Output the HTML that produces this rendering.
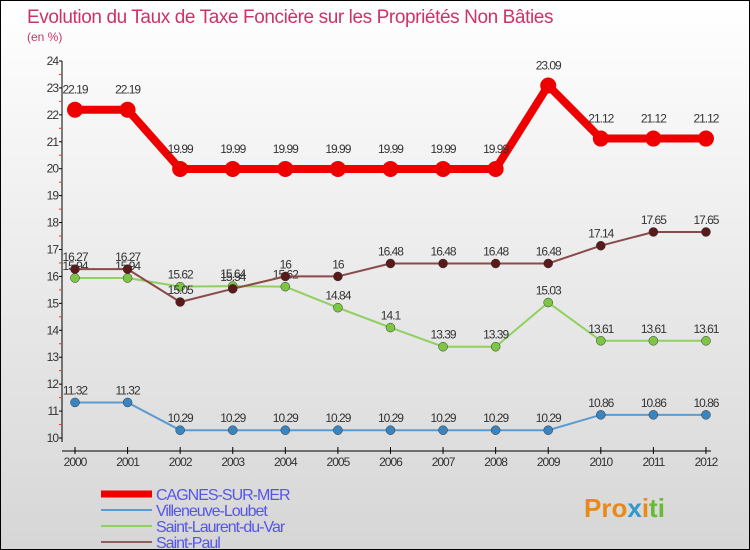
<!DOCTYPE html>
<html><head><meta charset="utf-8"><style>
body{margin:0}
#c{width:748px;height:548px;border:1px solid #000;background:linear-gradient(#fff,#d6d6d6);position:relative;font-family:"Liberation Sans",sans-serif;overflow:hidden}
</style></head><body>
<div id="c">
<svg id="s" width="748" height="548" xmlns="http://www.w3.org/2000/svg">
<text x="26" y="22" font-size="19" letter-spacing="-0.4" fill="#cc3366">Evolution du Taux de Taxe Foncière sur les Propriétés Non Bâties</text>
<text x="26" y="40" font-size="12" fill="#cc3366">(en %)</text>
<g id="axes"></g><g id="series"></g><g id="legend"></g>
<text x="583" y="516" font-size="26" font-weight="bold" fill="#e88a1a">Pro<tspan fill="#3399cc">x</tspan>i<tspan fill="#66bb33">ti</tspan></text>
</svg></div>
<script>
const years=[2000,2001,2002,2003,2004,2005,2006,2007,2008,2009,2010,2011,2012];
const yTicks=[10,11,12,13,14,15,16,17,18,19,20,21,22,23,24];
const cagnes=[22.19,22.19,19.99,19.99,19.99,19.99,19.99,19.99,19.99,23.09,21.12,21.12,21.12];
const villeneuve=[11.32,11.32,10.29,10.29,10.29,10.29,10.29,10.29,10.29,10.29,10.86,10.86,10.86];
const saintLaurent=[15.94,15.94,15.62,15.64,15.62,14.84,14.1,13.39,13.39,15.03,13.61,13.61,13.61];
const saintPaul=[16.27,16.27,15.05,15.54,16,16,16.48,16.48,16.48,16.48,17.14,17.65,17.65];
const names=["CAGNES-SUR-MER","Villeneuve-Loubet","Saint-Laurent-du-Var","Saint-Paul"];
const NS="http://www.w3.org/2000/svg";
const X=i=>74+i*52.58, Y=v=>437-(v-10)*26.93;
function mk(t,a,p){const e=document.createElementNS(NS,t);for(const k in a)e.setAttribute(k,a[k]);p.appendChild(e);return e;}
const ax=document.getElementById('axes');
let l=mk('line',{x1:61,y1:60,x2:61,y2:441,stroke:'#000'},ax);


l=mk('line',{x1:61,y1:450,x2:710,y2:450,stroke:'#000'},ax);


yTicks.forEach(v=>{mk('line',{x1:58,x2:61,y1:Y(v),y2:Y(v),stroke:'#000'},ax);
 if(v<24)mk('line',{x1:58,x2:61,y1:Y(v+0.5),y2:Y(v+0.5),stroke:'#e33'},ax);
 const t=mk('text',{x:57,y:Y(v)+4,'font-size':12,'text-anchor':'end',fill:'#333','letter-spacing':'-1'},ax);t.textContent=v;
 
 });
years.forEach((y,i)=>{mk('line',{x1:X(i),x2:X(i),y1:446,y2:453,stroke:'#000'},ax);
 const t=mk('text',{x:X(i),y:465,'font-size':12,'text-anchor':'middle',fill:'#333','letter-spacing':'-1'},ax);t.textContent=y;
 
 });
const sg=document.getElementById('series');
const defs=[[villeneuve,'#5b9bd0','#3a85c0',2,4.5],[saintLaurent,'#90d060','#7cc644',2,4.5],[saintPaul,'#8b4a4a','#5a1a1a',2,4.5],[cagnes,'#ee0000','#ee0000',8,8]];
const keys=['villeneuve','saint-laurent','saint-paul','cagnes'];
defs.forEach(([d,c,dc,w,r],k)=>{
 const p=mk('polyline',{points:d.map((v,i)=>X(i)+','+Y(v)).join(' '),fill:'none',stroke:c,'stroke-width':w},sg);
 
 
 d.forEach((v,i)=>{const ci=mk('circle',{cx:X(i),cy:Y(v),r:r,fill:dc,stroke:w>2?'none':'#333','stroke-width':0.5},sg);
  
  
  const t=mk('text',{x:X(i),y:Y(v)-(w>2?16:8),'font-size':12,'text-anchor':'middle',fill:'#333','letter-spacing':'-1'},sg);t.textContent=v;
  
  });
});
const lg=document.getElementById('legend');
const lc=[['#ee0000',7],['#5b9bd0',2],['#90d060',2],['#8b6060',2]];
names.forEach((n,i)=>{const y=493+i*16;
 mk('line',{x1:100,x2:151,y1:y,y2:y,stroke:lc[i][0],'stroke-width':lc[i][1]},lg);
 const t=mk('text',{x:155,y:y+6,'font-size':16,fill:'#5555ee','letter-spacing':'-1'},lg);t.textContent=n;
 
 });
</script>
</body></html>
